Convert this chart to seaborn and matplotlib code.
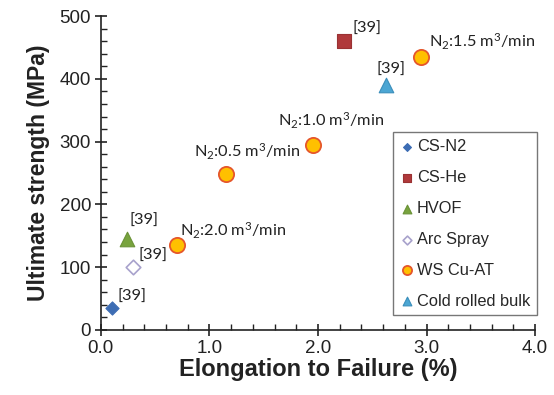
import matplotlib
matplotlib.use("Agg")
import matplotlib.pyplot as plt
import seaborn as sns
import pandas as pd

# Material groups and measured points (elongation %, ultimate strength MPa)
groups = ["CS-N2", "CS-He", "HVOF", "Arc Spray", "WS Cu-AT", "Cold rolled bulk"]
cs_n2_elong = [0.10]
cs_n2_uts = [35]
cs_he_elong = [2.24]
cs_he_uts = [460]
hvof_elong = [0.24]
hvof_uts = [145]
arc_elong = [0.30]
arc_uts = [100]
ws_elong = [0.70, 1.15, 1.95, 2.95]
ws_uts = [135, 248, 295, 435]
ws_flow = ["2.0", "0.5", "1.0", "1.5"]
bulk_elong = [2.63]
bulk_uts = [390]

x_ticks = [0.0, 1.0, 2.0, 3.0, 4.0]
y_ticks = [0, 100, 200, 300, 400, 500]

sns.set_style("ticks")
plt.rcParams["font.family"] = ["Liberation Sans", "DejaVu Sans"]
plt.rcParams["mathtext.default"] = "regular"

fig = plt.figure(figsize=(5.54, 3.95), dpi=100)
ax = fig.add_axes([0.182, 0.165, 0.784, 0.794])

styles = {
    "CS-N2": dict(marker="D", s=45, color="#3D6DB4", edgecolor="#3D6DB4", linewidth=0.8),
    "CS-He": dict(marker="s", s=95, color="#B0393B", edgecolor="#9A3233", linewidth=0.8),
    "HVOF": dict(marker="^", s=110, color="#78A33E", edgecolor="#6A9236", linewidth=0.8),
    "Arc Spray": dict(marker="D", s=55, color="white", edgecolor="#A8A2CC", linewidth=1.2),
    "WS Cu-AT": dict(marker="o", s=120, color="#FFC000", edgecolor="#E5562B", linewidth=1.3),
    "Cold rolled bulk": dict(marker="^", s=110, color="#4CA6D3", edgecolor="#3A8EBB", linewidth=0.8),
}
data = {
    "CS-N2": (cs_n2_elong, cs_n2_uts),
    "CS-He": (cs_he_elong, cs_he_uts),
    "HVOF": (hvof_elong, hvof_uts),
    "Arc Spray": (arc_elong, arc_uts),
    "WS Cu-AT": (ws_elong, ws_uts),
    "Cold rolled bulk": (bulk_elong, bulk_uts),
}

for g in groups:
    xs, ys = data[g]
    df = pd.DataFrame({"elong": xs, "uts": ys})
    sns.scatterplot(data=df, x="elong", y="uts", ax=ax, label=g, zorder=3, **styles[g])

# Reference labels next to the literature points
ref_font = dict(family=["Lato", "DejaVu Sans"], fontsize=11.8, color="#222222")
ref_offsets = {
    "CS-N2": (4, 8),
    "CS-He": (6, 9),
    "HVOF": (2, 13),
    "Arc Spray": (4, 8),
    "Cold rolled bulk": (-7, 11),
}
for g, off in ref_offsets.items():
    xs, ys = data[g]
    ax.annotate("[39]", (xs[0], ys[0]), xytext=off, textcoords="offset points",
                ha="left", va="center", **ref_font)

# Nitrogen flow labels on the WS Cu-AT points
flow_offsets = {"2.0": (2, 10), "0.5": (-23, 16), "1.0": (-25, 17), "1.5": (6, 11)}
for x, y, f in zip(ws_elong, ws_uts, ws_flow):
    ax.annotate(f"N$_2$:{f} m$^3$/min", (x, y), xytext=flow_offsets[f],
                textcoords="offset points", ha="left", va="center", **ref_font)

ax.set_xlim(0, 4.0)
ax.set_ylim(0, 500)
ax.set_xticks(x_ticks)
ax.set_xticklabels([f"{v:.1f}" for v in x_ticks])
ax.set_yticks(y_ticks)
ax.set_xticks([i * 0.2 for i in range(21)], minor=True)
ax.set_yticks(list(range(0, 501, 20)), minor=True)
ax.tick_params(which="major", direction="inout", length=8, width=1.2, labelsize=13.5,
               colors="#222222", pad=3)
ax.tick_params(which="minor", direction="in", length=4, width=1.0, color="#222222")
for sp in ["left", "bottom"]:
    ax.spines[sp].set_linewidth(1.2)
    ax.spines[sp].set_color("#222222")
sns.despine(ax=ax)

ax.set_xlabel("Elongation to Failure (%)", fontsize=17, fontweight="bold", color="#222222",
              labelpad=1)
ax.set_ylabel("Ultimate strength (MPa)", fontsize=16.5, fontweight="bold", color="#222222",
              labelpad=7)

leg = ax.legend(loc="upper left", bbox_to_anchor=(0.672, 0.63), frameon=True, fancybox=False,
                fontsize=11.8, labelspacing=0.97, handletextpad=0.15, handlelength=0.9,
                borderpad=0.42, borderaxespad=0, markerscale=0.6)
leg.get_frame().set_edgecolor("#555555")
leg.get_frame().set_linewidth(1.0)

fig.savefig("out.png", dpi=100)
